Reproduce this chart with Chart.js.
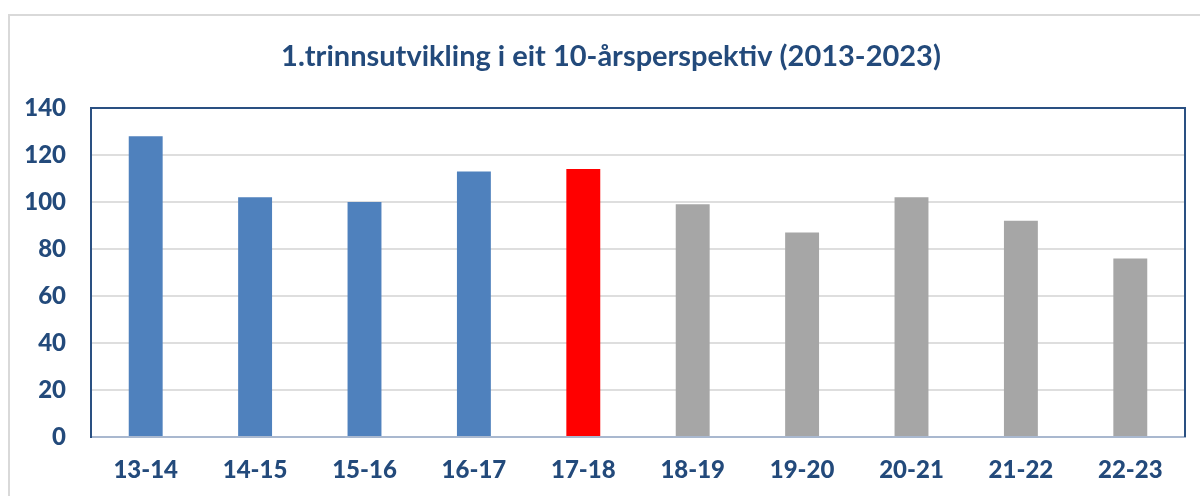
<!DOCTYPE html>
<html>
<head>
<meta charset="utf-8">
<script src="https://cdn.jsdelivr.net/npm/chart.js@4/dist/chart.umd.min.js"></script>
<style>
  html, body { margin: 0; padding: 0; background: #fff; overflow: hidden; }
  #frame { position: absolute; left: 8px; top: 14px; width: 1400px; height: 700px; border: 2px solid #d9d9d9; }
  #wrap { position: absolute; left: 0; top: 0; width: 1200px; height: 496px; }
</style>
</head>
<body>
<div id="frame"></div>
<div id="wrap"><canvas id="chart" width="1200" height="496"></canvas></div>
<script>
const seasons = ['13-14', '14-15', '15-16', '16-17', '17-18', '18-19', '19-20', '20-21', '21-22', '22-23'];
const pupils = [128, 102, 100, 113, 114, 99, 87, 102, 92, 76];
const yTicks = [0, 20, 40, 60, 80, 100, 120, 140];

const titleText = '1.trinnsutvikling i eit 10-årsperspektiv (2013-2023)';
const textColor = '#234a7b';
const frameColor = '#2a5082';

// blue up to 16-17, red for 17-18, grey after
function barColor(i) {
  if (i < 4) return '#4f81bd';
  if (i === 4) return '#ff0000';
  return '#a6a6a6';
}

// top + right edge of the plot box, and the title (centred a bit right of the canvas middle)
const plotBox = {
  id: 'plotBox',
  afterDraw(chart) {
    const { ctx, chartArea: a } = chart;
    ctx.save();
    ctx.strokeStyle = frameColor;
    ctx.lineWidth = 2;
    ctx.beginPath();
    ctx.moveTo(a.left, a.top);
    ctx.lineTo(a.right, a.top);
    ctx.lineTo(a.right, a.bottom);
    ctx.stroke();

    ctx.fillStyle = textColor;
    ctx.font = 'bold 29px Lato';
    ctx.textAlign = 'center';
    ctx.textBaseline = 'middle';
    ctx.fillText(titleText, 611, 57);
    ctx.restore();
  }
};

new Chart(document.getElementById('chart').getContext('2d'), {
  type: 'bar',
  data: {
    labels: seasons,
    datasets: [{
      data: pupils,
      backgroundColor: pupils.map((v, i) => barColor(i)),
      barPercentage: 0.31,
      categoryPercentage: 1
    }]
  },
  options: {
    responsive: false,
    animation: false,
    layout: { padding: { left: 0, right: 15, top: 108, bottom: 0 } },
    plugins: {
      legend: { display: false },
      tooltip: { enabled: false },
      title: { display: false }
    },
    scales: {
      x: {
        grid: { display: false, drawTicks: false },
        border: { color: '#a9b8cf', width: 2 },
        ticks: {
          color: textColor,
          font: { family: 'Lato', size: 24, weight: 900 },
          padding: 19,
          maxRotation: 0
        },
        afterFit(scale) { scale.height = 59; }
      },
      y: {
        min: 0,
        max: 140,
        afterBuildTicks(scale) { scale.ticks = yTicks.map(v => ({ value: v })); },
        grid: { color: '#dedede', lineWidth: 2, drawTicks: false },
        border: { color: frameColor, width: 2 },
        ticks: {
          color: textColor,
          font: { family: 'Lato', size: 24, weight: 900 },
          padding: 25
        },
        afterFit(scale) { scale.width = 91; }
      }
    }
  },
  plugins: [plotBox]
});
</script>
</body>
</html>
